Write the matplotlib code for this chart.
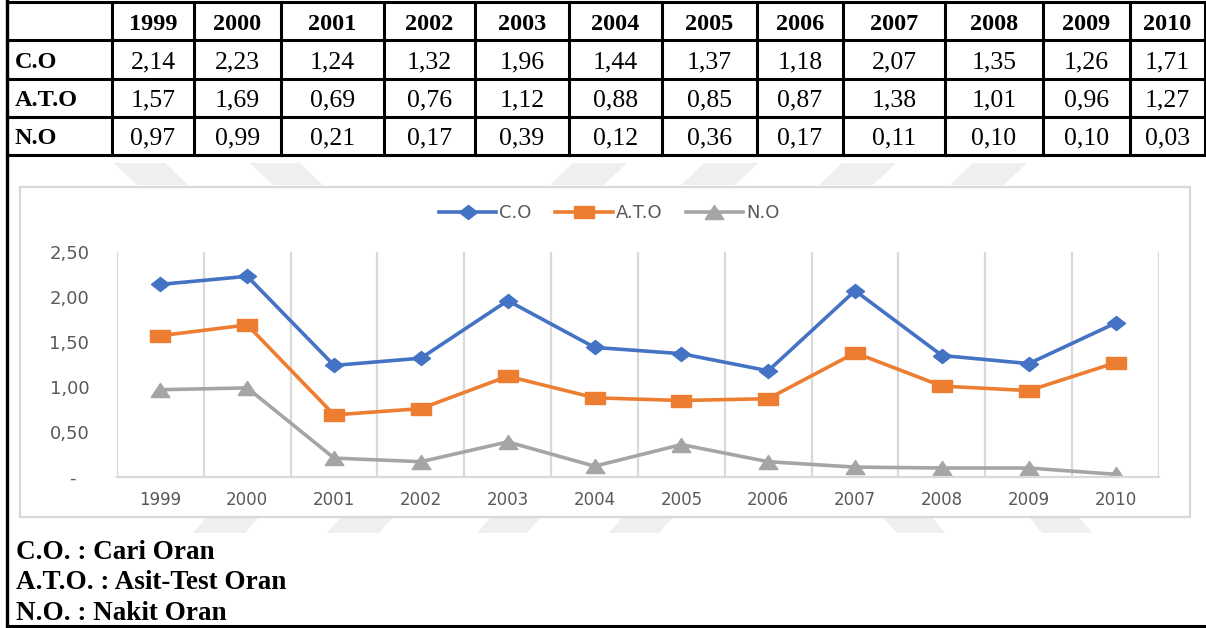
import matplotlib
matplotlib.use("Agg")
import matplotlib.pyplot as plt
from matplotlib.patches import Polygon, Rectangle
from matplotlib.path import Path
from matplotlib.transforms import ScaledTranslation

years = ['1999', '2000', '2001', '2002', '2003', '2004', '2005', '2006', '2007', '2008', '2009', '2010']
co = [2.14, 2.23, 1.24, 1.32, 1.96, 1.44, 1.37, 1.18, 2.07, 1.35, 1.26, 1.71]
ato = [1.57, 1.69, 0.69, 0.76, 1.12, 0.88, 0.85, 0.87, 1.38, 1.01, 0.96, 1.27]
no = [0.97, 0.99, 0.21, 0.17, 0.39, 0.12, 0.36, 0.17, 0.11, 0.10, 0.10, 0.03]
series_names = ['C.O', 'A.T.O', 'N.O']
notes = ['C.O. : Cari Oran', 'A.T.O. : Asit-Test Oran', 'N.O. : Nakit Oran']
y_ticks = [0, 0.5, 1.0, 1.5, 2.0, 2.5]
y_ticklabels = ['-', '0,50', '1,00', '1,50', '2,00', '2,50']

W, H = 1206, 628
fig = plt.figure(figsize=(W / 100, H / 100), dpi=100)

# page layer in pixel coords (table, borders, notes, watermark)
page = fig.add_axes([0, 0, 1, 1])
page.set_xlim(0, W)
page.set_ylim(H, 0)
page.axis('off')

wm = '#efefef'
top_marks = [[(114, 163), (165, 163), (188, 185), (137, 185)],
             [(250, 163), (300, 163), (323, 185), (273, 185)],
             [(573, 163), (627, 163), (604, 185), (550, 185)],
             [(704, 163), (758, 163), (735, 185), (681, 185)],
             [(842, 163), (896, 163), (873, 185), (819, 185)],
             [(973, 163), (1027, 163), (1004, 185), (950, 185)]]
bottom_marks = [[(206, 518), (258, 518), (245, 533), (193, 533)],
                [(340, 518), (392, 518), (379, 533), (327, 533)],
                [(490, 518), (540, 518), (527, 533), (477, 533)],
                [(622, 518), (672, 518), (659, 533), (609, 533)],
                [(883, 518), (933, 518), (945, 533), (897, 533)],
                [(1030, 518), (1080, 518), (1092, 533), (1042, 533)]]
for pts in top_marks + bottom_marks:
    page.add_patch(Polygon(pts, closed=True, facecolor=wm, edgecolor='none', zorder=0))

# chart frame
page.add_patch(Rectangle((20, 187), 1170, 330, facecolor='white', edgecolor='#d9d9d9',
                         lw=1.6, zorder=1))

# table
col_edges = [7, 112, 194, 281, 384, 475, 569, 662, 757, 843, 945, 1043, 1130, 1205]
row_edges = [2, 40, 79, 117, 155]
for x in col_edges:
    page.plot([x, x], [row_edges[0], row_edges[-1]], color='black', lw=2.2, zorder=3)
for y in row_edges:
    page.plot([col_edges[0], col_edges[-1]], [y, y], color='black', lw=2.2, zorder=3)
page.plot([7, 7], [0, 627], color='black', lw=2.4, zorder=3)
page.plot([7, W], [626, 626], color='black', lw=2.2, zorder=3)

serif = 'Liberation Serif'
for i, yr in enumerate(years):
    cx = (col_edges[i + 1] + col_edges[i + 2]) / 2
    page.text(cx, 29.5, yr, ha='center', va='baseline', fontsize=17.5, fontweight='bold',
              family=serif, zorder=4)
for r, (name, vals) in enumerate(zip(series_names, [co, ato, no])):
    cy = (row_edges[r + 1] + row_edges[r + 2]) / 2
    page.text(15, cy + 8, name, ha='left', va='baseline', fontsize=17.5, fontweight='bold',
              family=serif, zorder=4)
    for i, v in enumerate(vals):
        cx = (col_edges[i + 1] + col_edges[i + 2]) / 2
        page.text(cx, cy + 8.5, f'{v:.2f}'.replace('.', ','), ha='center', va='baseline',
                  fontsize=18.5, family=serif, zorder=4)

for txt, yb in zip(notes, [559, 589, 620]):
    page.text(16, yb, txt, ha='left', va='baseline', fontsize=19.5, fontweight='bold',
              family=serif, zorder=4)

# line chart
ax = fig.add_axes([117 / W, 1 - 477 / H, 1042 / W, 225 / H], zorder=2)
ax.patch.set_visible(False)
x = list(range(len(years)))

diamond = Path([(-1, 0), (0, 0.78), (1, 0), (0, -0.78), (-1, 0)])
square = Path([(-1, -0.66), (1, -0.66), (1, 0.66), (-1, 0.66), (-1, -0.66)])
triangle = Path([(-1, -0.75), (1, -0.75), (0, 0.75), (-1, -0.75)])

ax.plot(x, co, color='#4472C4', lw=2.6, marker=diamond, ms=13, label=series_names[0])
ax.plot(x, ato, color='#ED7D31', lw=2.6, marker=square, ms=14, label=series_names[1])
ax.plot(x, no, color='#A5A5A5', lw=2.6, marker=triangle, ms=13.5, label=series_names[2])

ax.set_xlim(-0.5, len(years) - 0.5)
ax.set_ylim(0, 2.5)
ax.set_xticks(x)
ax.set_xticklabels(years)
ax.set_xticks([i - 0.5 for i in range(len(years) + 1)], minor=True)
ax.grid(True, which='minor', axis='x', color='#d9d9d9', lw=1.6)
ax.set_yticks(y_ticks)
ax.set_yticklabels(y_ticklabels)
ax.tick_params(axis='both', which='both', length=0, colors='#595959')
ax.tick_params(axis='x', labelsize=12, pad=10)
ax.tick_params(axis='y', labelsize=13, pad=20)
for side in ['left', 'right', 'top']:
    ax.spines[side].set_visible(False)
ax.spines['bottom'].set_color('#d9d9d9')
ax.spines['bottom'].set_linewidth(1.6)
ax.set_axisbelow(True)

zero_lbl = ax.get_yticklabels()[0]
zero_lbl.set_transform(zero_lbl.get_transform() + ScaledTranslation(-0.14, 0, fig.dpi_scale_trans))

leg = ax.legend(loc='center', bbox_to_anchor=(609 / W, 1 - 213 / H), bbox_transform=fig.transFigure,
                ncol=3, frameon=False, fontsize=13, handlelength=3.2, handletextpad=0.15,
                columnspacing=1.3, labelcolor='#595959')

fig.savefig('out.png', dpi=100)
